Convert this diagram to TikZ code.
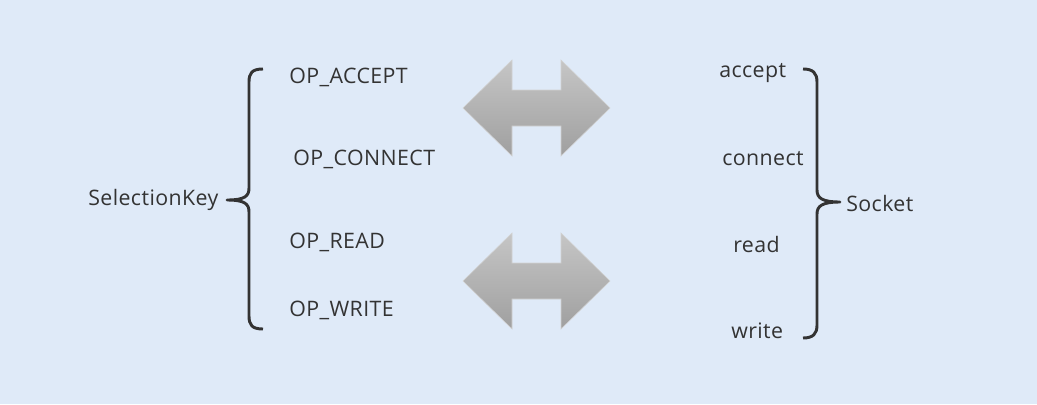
\documentclass[tikz,border=0pt]{standalone}
\usepackage{fontspec}
\setmainfont[LetterSpace=2]{Open Sans}
\definecolor{bgblue}{HTML}{DFEAF8}
\definecolor{ink}{HTML}{333333}
\tikzset{
  label/.style={anchor=base west,inner sep=0pt,text=ink,font=\fontsize{16}{19}\selectfont},
  brace/.style={line width=2.2pt,ink,line join=round},
  arrowshade/.style={top color=gray!45,bottom color=gray!75,draw=gray!35,line width=0.4pt}
}
\begin{document}
\begin{tikzpicture}[x=0.75pt,y=-0.75pt]
  \fill[bgblue] (0,0) rectangle (1037,404);
  \useasboundingbox (0,0) rectangle (1037,404);
  \node[label] (selkey) at (88,205) {SelectionKey};
  \node[label] (opaccept) at (289,83) {OP\_ACCEPT};
  \node[label] (opconnect) at (293,165) {OP\_CONNECT};
  \node[label] (opread) at (289,248) {OP\_READ};
  \node[label] (opwrite) at (289,316) {OP\_WRITE};
  \node[label] (accept) at (719,77) {accept};
  \node[label] (connect) at (722,165) {connect};
  \node[label] (read) at (733,252) {read};
  \node[label] (write) at (731,338) {write};
  \node[label] (socket) at (846,211) {Socket};
  \draw[brace] (263,69) .. controls (252,69) and (249,73) .. (249,82) -- (249,188)
    .. controls (249,196) and (245,200) .. (227,200)
    .. controls (245,200) and (249,204) .. (249,212) -- (249,316)
    .. controls (249,325) and (252,329) .. (263,329);
  \draw[brace] (803,69) .. controls (813,69) and (817,73) .. (817,82) -- (817,190)
    .. controls (817,198) and (822,202) .. (840,202)
    .. controls (822,202) and (817,206) .. (817,214) -- (817,325)
    .. controls (817,334) and (813,338) .. (803,338);
  \foreach \yc in {108,281}
    \shade[arrowshade] (463,\yc) -- (512,\yc-48) -- (512,\yc-18) -- (561,\yc-18)
      -- (561,\yc-48) -- (610,\yc) -- (561,\yc+48) -- (561,\yc+18)
      -- (512,\yc+18) -- (512,\yc+48) -- cycle;
\end{tikzpicture}
\end{document}
